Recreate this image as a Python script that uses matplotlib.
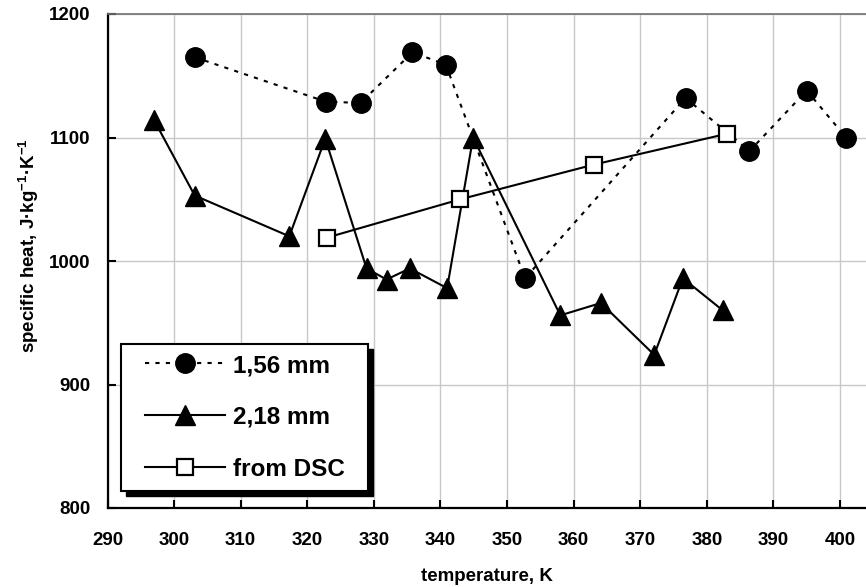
import matplotlib
matplotlib.use('Agg')
import matplotlib.pyplot as plt
from matplotlib.patches import Rectangle

# --- data ---
t_156 = [303.1, 322.8, 328.0, 335.8, 340.8, 352.7, 376.8, 386.4, 395.0, 400.9]
cp_156 = [1165, 1129, 1128, 1169, 1159, 986, 1132, 1089, 1138, 1100]

t_218 = [297.0, 303.1, 317.3, 322.7, 328.9, 331.9, 335.4, 341.0, 344.9,
         358.0, 364.1, 372.1, 376.4, 382.4]
cp_218 = [1114, 1053, 1020, 1099, 994, 985, 994, 978, 1100,
          956, 966, 924, 986, 960]

t_dsc = [323, 343, 363, 383]
cp_dsc = [1019, 1050, 1078, 1103]

x_ticks = list(range(290, 401, 10))
y_ticks = [800, 900, 1000, 1100, 1200]

plt.rcParams['font.family'] = ['Liberation Sans', 'DejaVu Sans']
plt.rcParams['font.weight'] = 'bold'
plt.rcParams['mathtext.fontset'] = 'custom'
plt.rcParams['mathtext.rm'] = 'Liberation Sans:bold'
plt.rcParams['mathtext.default'] = 'rm'

W, H = 866, 587
fig = plt.figure(figsize=(W / 100, H / 100), dpi=100)
ax_l, ax_b, ax_w, ax_h = 107.5, 79, 758.5, 494
ax = fig.add_axes([ax_l / W, ax_b / H, ax_w / W, ax_h / H])


def px2ax(px, py):
    # pixel (from top-left of figure) -> axes fraction
    return (px - ax_l) / ax_w, (H - ax_b - py) / ax_h


# grid
ax.set_axisbelow(True)
ax.grid(True, color='#c8c8c8', lw=1.0)

ax.plot(t_156, cp_156, color='black', lw=1.5, ls=(0, (2, 3)),
        marker='o', ms=14, mfc='black', mec='black', label='1,56 mm')
ax.plot(t_218, cp_218, color='black', lw=1.5, ls='-',
        marker='^', ms=14, mfc='black', mec='black', label='2,18 mm')
ax.plot(t_dsc, cp_dsc, color='black', lw=1.5, ls='-',
        marker='s', ms=12, mfc='white', mec='black', mew=1.6, label='from DSC')

ax.set_xlim(290, 403.9)
ax.set_ylim(800, 1200)
ax.set_xticks(x_ticks)
ax.set_yticks(y_ticks)

ax.spines['right'].set_visible(False)
ax.spines['top'].set_color('#707070')
ax.spines['top'].set_linewidth(1.2)
for s in ['left', 'bottom']:
    ax.spines[s].set_linewidth(1.6)
    ax.spines[s].set_color('black')

ax.tick_params(direction='in', length=6, width=1.5, labelsize=13.5,
               top=False, right=False)
ax.tick_params(axis='x', pad=17)
ax.tick_params(axis='y', pad=12)

ax.set_xlabel('temperature, K', fontsize=13.5, fontweight='bold', labelpad=14)
ax.set_ylabel('specific heat, J·kg$^{-1}$·K$^{-1}$', fontsize=13.5,
              fontweight='bold')
ax.yaxis.set_label_coords(-0.088, 0.532)

# legend box with hard shadow
fx0, fy0 = px2ax(121, 491)
fx1, fy1 = px2ax(368, 344)
sdx, sdy = 5 / ax_w, 5 / ax_h
ax.add_patch(Rectangle((fx0 + sdx, fy0 - sdy), fx1 - fx0, fy1 - fy0,
                       transform=ax.transAxes, facecolor='black',
                       edgecolor='black', zorder=5, clip_on=False))
ax.add_patch(Rectangle((fx0, fy0), fx1 - fx0, fy1 - fy0,
                       transform=ax.transAxes, facecolor='white',
                       edgecolor='black', lw=1.5, zorder=6, clip_on=False))

leg = ax.legend(loc='upper left', bbox_to_anchor=px2ax(145, 354),
                borderaxespad=0, frameon=False, borderpad=0,
                prop={'size': 17.5, 'weight': 'bold'},
                handlelength=3.3, handletextpad=0.33, labelspacing=1.19)
leg.set_zorder(7)

fig.savefig('out.png', dpi=100)
